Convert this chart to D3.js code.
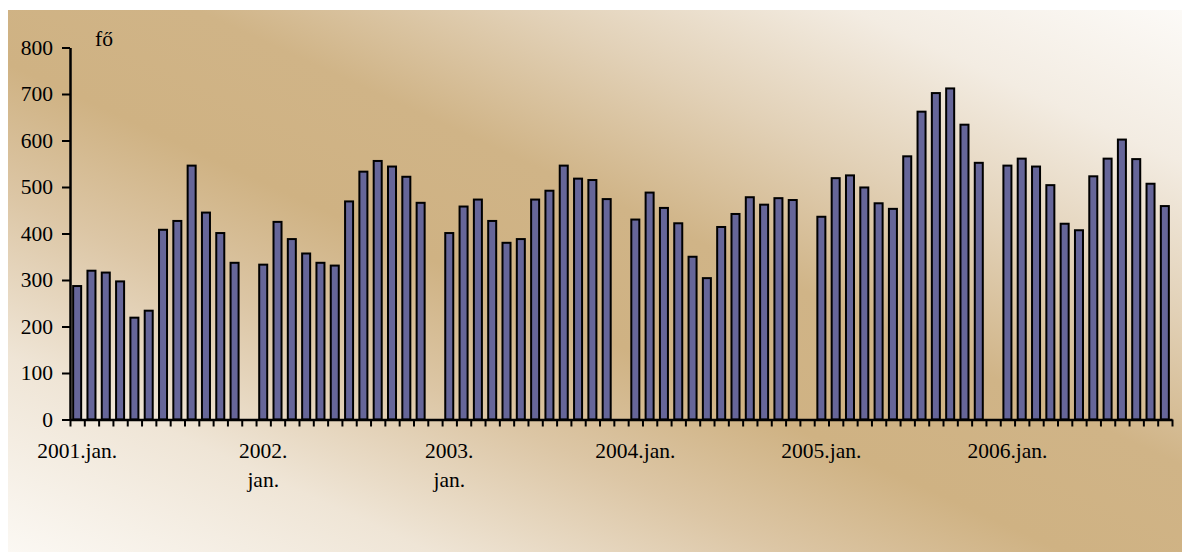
<!DOCTYPE html>
<html><head><meta charset="utf-8">
<script src="https://cdn.jsdelivr.net/npm/d3@7"></script>
<style>html,body{margin:0;padding:0;background:#fff;}svg{display:block;}</style>
</head><body>
<svg id="c" width="1182" height="553"></svg>
<script>
const years = ["2001","2002","2003","2004","2005","2006"];
const yearLabels = [["2001.jan."],["2002.","jan."],["2003.","jan."],["2004.jan."],["2005.jan."],["2006.jan."]];
const v2001 = [287,320,316,297,219,234,408,427,546,445,401,337];
const v2002 = [333,425,388,357,337,331,469,533,556,544,522,466];
const v2003 = [401,458,473,427,380,388,473,492,546,518,515,474];
const v2004 = [430,488,455,422,350,304,414,442,478,462,476,472];
const v2005 = [436,519,525,499,465,453,566,662,702,712,634,552];
const v2006 = [546,561,544,504,421,407,523,561,602,560,507,459];
const series = [v2001,v2002,v2003,v2004,v2005,v2006];
const yTicks = [0,100,200,300,400,500,600,700,800];
const unitLabel = "fő";

// slots: 12 months per year, one empty slot between years
const slots = [];
series.forEach((arr, yi) => {
  arr.forEach((v, m) => slots.push({year: years[yi], month: m, value: v}));
  if (yi < series.length - 1) slots.push(null);
});
const nSlots = slots.length;

const svg = d3.select("#c");
const defs = svg.append("defs");
const g = defs.append("linearGradient").attr("id","bg")
  .attr("x1",0).attr("y1",1).attr("x2",1).attr("y2",0);
[[0,"#fbf8f3"],[0.18,"#efe5d6"],[0.33,"#dcc6a5"],[0.45,"#cfb283"],[0.58,"#d0b487"],[0.72,"#e2d1b7"],[0.86,"#f3ece2"],[1,"#fcfaf7"]]
  .forEach(s => g.append("stop").attr("offset", s[0]).attr("stop-color", s[1]));

svg.append("rect").attr("x",8).attr("y",10).attr("width",1174).attr("height",542).attr("fill","url(#bg)");

const x = d3.scaleLinear().domain([0, nSlots]).range([70, 1172]);
const y = d3.scaleLinear().domain([0, 800]).range([419.5, 47.5]);
const slotW = x(1) - x(0);
const barW = slotW * 0.56;

const font = "'Liberation Serif','Times New Roman',serif";
const fs = 21.5;

// bars
svg.append("g").selectAll("rect")
  .data(slots.map((d,i)=>({d,i})).filter(o=>o.d))
  .join("rect")
  .attr("x", o => x(o.i + 0.5) - barW/2)
  .attr("y", o => y(o.d.value))
  .attr("width", barW)
  .attr("height", o => y(0) - y(o.d.value))
  .attr("fill", "#666699")
  .attr("stroke", "#000")
  .attr("stroke-width", 2);

// x axis
const xAxis = svg.append("g").attr("transform", `translate(0,${y(0)})`)
  .call(d3.axisBottom(x).tickValues(d3.range(nSlots+1)).tickFormat("").tickSize(7).tickSizeOuter(0));
xAxis.select(".domain").attr("stroke","#000").attr("stroke-width",2.5);
xAxis.selectAll(".tick line").attr("stroke","#000").attr("stroke-width",2);

// y axis
const yAxis = svg.append("g").attr("transform", `translate(${x(0)},0)`)
  .call(d3.axisLeft(y).tickValues(yTicks).tickSize(8).tickSizeOuter(0).tickPadding(9));
yAxis.select(".domain").attr("stroke","#000").attr("stroke-width",2.5);
yAxis.selectAll(".tick line").attr("stroke","#000").attr("stroke-width",2);
yAxis.selectAll(".tick text").attr("font-family", font).attr("font-size", fs).attr("fill","#000");

// year labels
yearLabels.forEach((lines, yi) => {
  const cx = x(yi*13 + 0.5);
  const t = svg.append("text").attr("text-anchor","middle")
    .attr("font-family", font).attr("font-size", fs).attr("fill","#000");
  lines.forEach((ln, li) => {
    t.append("tspan").attr("x", cx).attr("y", 458 + li*29).text(ln);
  });
});

svg.append("text").attr("x", 95).attr("y", 46).attr("font-family", font).attr("font-size", fs).attr("fill","#000").text(unitLabel);
</script>
</body></html>
